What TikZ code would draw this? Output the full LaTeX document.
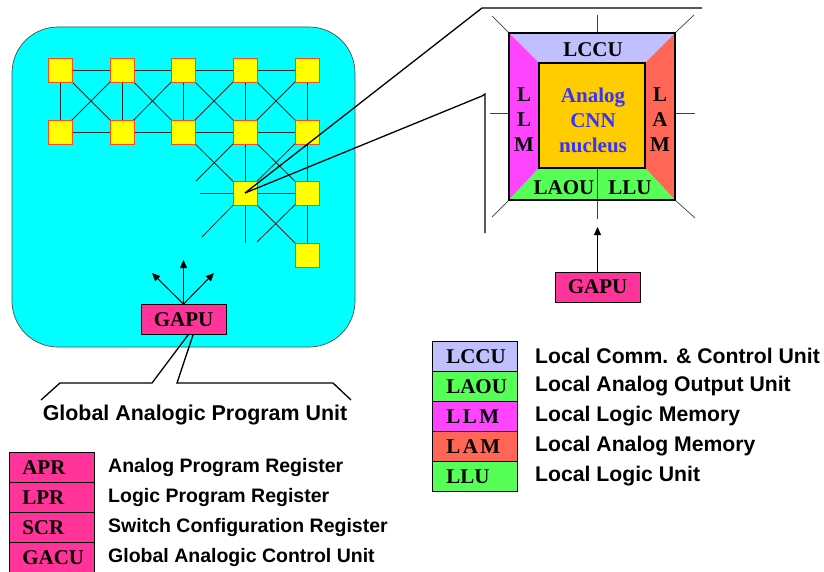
\documentclass[tikz,border=0pt]{standalone}
\usepackage{fontspec}
\setmainfont{Liberation Serif}
\newfontfamily\descfont{Liberation Sans}
\usetikzlibrary{arrows.meta}

\definecolor{arraycyan}{HTML}{00FFFF}
\definecolor{cellyellow}{HTML}{FFFF00}
\definecolor{celledge}{HTML}{FF4A1C}
\definecolor{gapupink}{HTML}{FF3399}
\definecolor{lccucol}{HTML}{C0C0FF}
\definecolor{greencol}{HTML}{55FF55}
\definecolor{llmcol}{HTML}{FF44FF}
\definecolor{lamcol}{HTML}{FF6655}
\definecolor{nucleuscol}{HTML}{FFCC00}
\definecolor{nucleustext}{HTML}{3333FF}

\tikzset{
  cellsq/.style={draw=celledge, fill=cellyellow, line width=0.9pt, minimum size=24pt, inner sep=0pt},
  wire/.style={line width=0.8pt, draw=black!85},
  thinwire/.style={line width=0.7pt, draw=black!75},
  callout/.style={line width=1.3pt, draw=black},
  boxfont/.style={font=\bfseries\fontsize{21}{25}\selectfont},
  unitbox/.style={boxfont, draw=black, line width=0.8pt, fill=gapupink, inner sep=0pt,
                  minimum width=85pt, minimum height=30pt},
  legendL/.style={boxfont, draw=black, line width=0.6pt, anchor=north west, inner ysep=0pt,
                  inner xsep=13pt, text width=59pt, align=left, minimum height=30pt},
  legendR/.style={boxfont, draw=black, line width=0.6pt, anchor=north west, inner ysep=0pt,
                  inner xsep=14pt, text width=57pt, align=left, minimum height=30pt},
  desc/.style={anchor=west, inner sep=0pt, font=\descfont\bfseries\fontsize{19.5}{20}\selectfont},
  descR/.style={desc, font=\descfont\bfseries\fontsize{21.2}{22}\selectfont},
  upfan/.style={line width=1pt, -{Triangle[length=8pt,width=7pt]}},
}

\begin{document}
\begin{tikzpicture}[x=1pt,y=-1pt]
\useasboundingbox (0,0) rectangle (824,572);

% ---------- processor array ----------
\draw[fill=arraycyan, draw=black!70, line width=0.7pt, rounded corners=46pt]
  (12,27) rectangle (355,347);

% cell positions
\foreach \i/\x in {0/60,1/122,2/183,3/245,4/307}
  \foreach \j/\y in {0/70,1/132}
    \coordinate (p\i\j) at (\x,\y);
\coordinate (p32) at (245,193);
\coordinate (p42) at (307,193);
\coordinate (p43) at (307,255);

% open ends of the neighbourhood links
\coordinate (s1) at (196,181);
\coordinate (s2) at (200,193);
\coordinate (s3) at (202,237);
\coordinate (s4) at (245,243);
\coordinate (s5) at (257,242);

% links between cells
\draw[wire] (p00) -- (p40);
\draw[wire] (p01) -- (p41);
\draw[wire] (p00) -- (p01);
\draw[wire] (p10) -- (p11);
\draw[wire] (p20) -- (p21);
\draw[wire] (p30) -- (s4);
\draw[wire] (p40) -- (p43);
\draw[wire] (p00) -- (p11);
\draw[wire] (p10) -- (p01);
\draw[wire] (p10) -- (p21);
\draw[wire] (p20) -- (p11);
\draw[wire] (p20) -- (p31);
\draw[wire] (p30) -- (p21);
\draw[wire] (p30) -- (p41);
\draw[wire] (p40) -- (p31);
\draw[wire] (p21) -- (p32);
\draw[wire] (p31) -- (s1);
\draw[wire] (p31) -- (p42);
\draw[wire] (p41) -- (p32);
\draw[wire] (s2) -- (p42);
\draw[wire] (p32) -- (p43);
\draw[wire] (p42) -- (s5);
\draw[wire] (p32) -- (s3);

% cells
\foreach \c in {p00,p10,p20,p30,p40,p01,p11,p21,p31,p41,p32,p42,p43}
  \node[cellsq] (n\c) at (\c) {};

% global program unit
\node[unitbox] (gapuL) at (183.5,319.5) {GAPU};
\coordinate (fanUp) at (183.5,260);
\coordinate (fanLeft) at (152,273);
\coordinate (fanRight) at (214,273);
\draw[upfan] (gapuL.north) -- (fanUp);
\draw[upfan] (gapuL.north) -- (fanLeft);
\draw[upfan] (gapuL.north) -- (fanRight);

% brace towards the caption
\coordinate (bA) at (188,335);
\coordinate (bB) at (193,335);
\coordinate (bL1) at (152,383);
\coordinate (bL2) at (60,383);
\coordinate (bL3) at (41,400);
\coordinate (bR1) at (177,383);
\coordinate (bR2) at (333,383);
\coordinate (bR3) at (351,400);
\draw[line width=1.3pt] (bA) -- (bL1) -- (bL2) -- (bL3);
\draw[line width=1.3pt] (bB) -- (bR1) -- (bR2) -- (bR3);
\node[anchor=base, inner sep=0pt, font=\descfont\bfseries\fontsize{21.4}{22}\selectfont]
  (gapuCaption) at (195,420) {Global Analogic Program Unit};

% ---------- magnified cell ----------
\coordinate (O1) at (509,33);
\coordinate (O2) at (675,33);
\coordinate (O3) at (675,200);
\coordinate (O4) at (509,200);
\coordinate (I1) at (539,63);
\coordinate (I2) at (645,63);
\coordinate (I3) at (645,168);
\coordinate (I4) at (539,168);

% callout from the selected cell
\coordinate (zTop) at (482,8);
\coordinate (zTopEnd) at (702,8);
\coordinate (zMid) at (482,96);
\coordinate (zHook) at (485,94);
\coordinate (zBot) at (485,233);
\draw[callout] (np32.center) -- (zTop) -- (zTopEnd);
\draw[callout] (np32.center) -- (zMid) -- (zHook) -- (zBot);

% outside links of the magnified cell
\coordinate (tStub) at (597,15);
\coordinate (lStub) at (490,113);
\coordinate (rStub) at (695,113);
\coordinate (tlStub) at (492,16);
\coordinate (trStub) at (694,15);
\coordinate (blStub) at (492,217);
\coordinate (brStub) at (695,218);
\coordinate (oTop) at (597,33);
\coordinate (oLeft) at (509,113);
\coordinate (oRight) at (675,113);
\draw[thinwire] (tStub) -- (oTop);
\draw[thinwire] (lStub) -- (oLeft);
\draw[thinwire] (oRight) -- (rStub);
\draw[thinwire] (tlStub) -- (O1);
\draw[thinwire] (O2) -- (trStub);
\draw[thinwire] (O4) -- (blStub);
\draw[thinwire] (O3) -- (brStub);

% the four surrounding units
\fill[lccucol] (O1) -- (O2) -- (I2) -- (I1) -- cycle;
\fill[llmcol] (O1) -- (I1) -- (I4) -- (O4) -- cycle;
\fill[lamcol] (O2) -- (O3) -- (I3) -- (I2) -- cycle;
\fill[greencol] (O4) -- (O3) -- (I3) -- (I4) -- cycle;

% split of the bottom unit and the line towards the GAPU
\coordinate (iBot) at (597,168);
\coordinate (splitEnd) at (597,219);
\draw[thinwire, line width=0.9pt] (iBot) -- (splitEnd);

\draw[line width=2pt] (O1) rectangle (O3);
\node[draw=black, line width=2pt, fill=nucleuscol, minimum width=106pt, minimum height=105pt,
      inner sep=0pt] (nucleus) at (592,115.5) {};
\node[boxfont, text=nucleustext, align=center, inner sep=0pt] (nucleusText) at (593,120)
  {Analog\\CNN\\nucleus};

\node[boxfont, inner sep=0pt] (lccuT) at (593,50) {LCCU};
\node[boxfont, inner sep=0pt, align=center] (llmT) at (524,120) {L\\L\\M};
\node[boxfont, inner sep=0pt, align=center] (lamT) at (660,120) {L\\A\\M};
\node[boxfont, inner sep=0pt] (laouT) at (564,188) {LAOU};
\node[boxfont, inner sep=0pt] (lluT) at (630,188) {LLU};

% GAPU feeding the cell
\node[unitbox] (gapuR) at (597.5,287) {GAPU};
\coordinate (feedTip) at (597.5,227);
\draw[upfan] (gapuR.north) -- (feedTip);

% ---------- legend of the local units ----------
\node[legendR, fill=lccucol] (lccuK) at (432,341) {LCCU};
\node[legendR, fill=greencol] (laouK) at (432,371) {LAOU};
\node[legendR, fill=llmcol] (llmK) at (432,401) {L\kern2.5pt L\kern2.5pt M};
\node[legendR, fill=lamcol] (lamK) at (432,431) {L\kern2.5pt A\kern2.5pt M};
\node[legendR, fill=greencol] (lluK) at (432,461) {LLU};

\node[descR] (lccuD) at (535,356) {Local Comm. \& Control Unit};
\node[descR] (laouD) at (535,386) {Local Analog Output Unit};
\node[descR] (llmD) at (535,416) {Local Logic Memory};
\node[descR] (lamD) at (535,446) {Local Analog Memory};
\node[descR] (lluD) at (535,476) {Local Logic Unit};

% ---------- legend of the global registers ----------
\node[legendL, fill=gapupink] (aprK) at (9,452) {APR};
\node[legendL, fill=gapupink] (lprK) at (9,482) {LPR};
\node[legendL, fill=gapupink] (scrK) at (9,512) {SCR};
\node[legendL, fill=gapupink] (gacuK) at (9,542) {GACU};

\node[desc] (aprD) at (108,467) {Analog Program Register};
\node[desc] (lprD) at (108,497) {Logic Program Register};
\node[desc] (scrD) at (108,527) {Switch Configuration Register};
\node[desc] (gacuD) at (108,557) {Global Analogic Control Unit};
\end{tikzpicture}
\end{document}
